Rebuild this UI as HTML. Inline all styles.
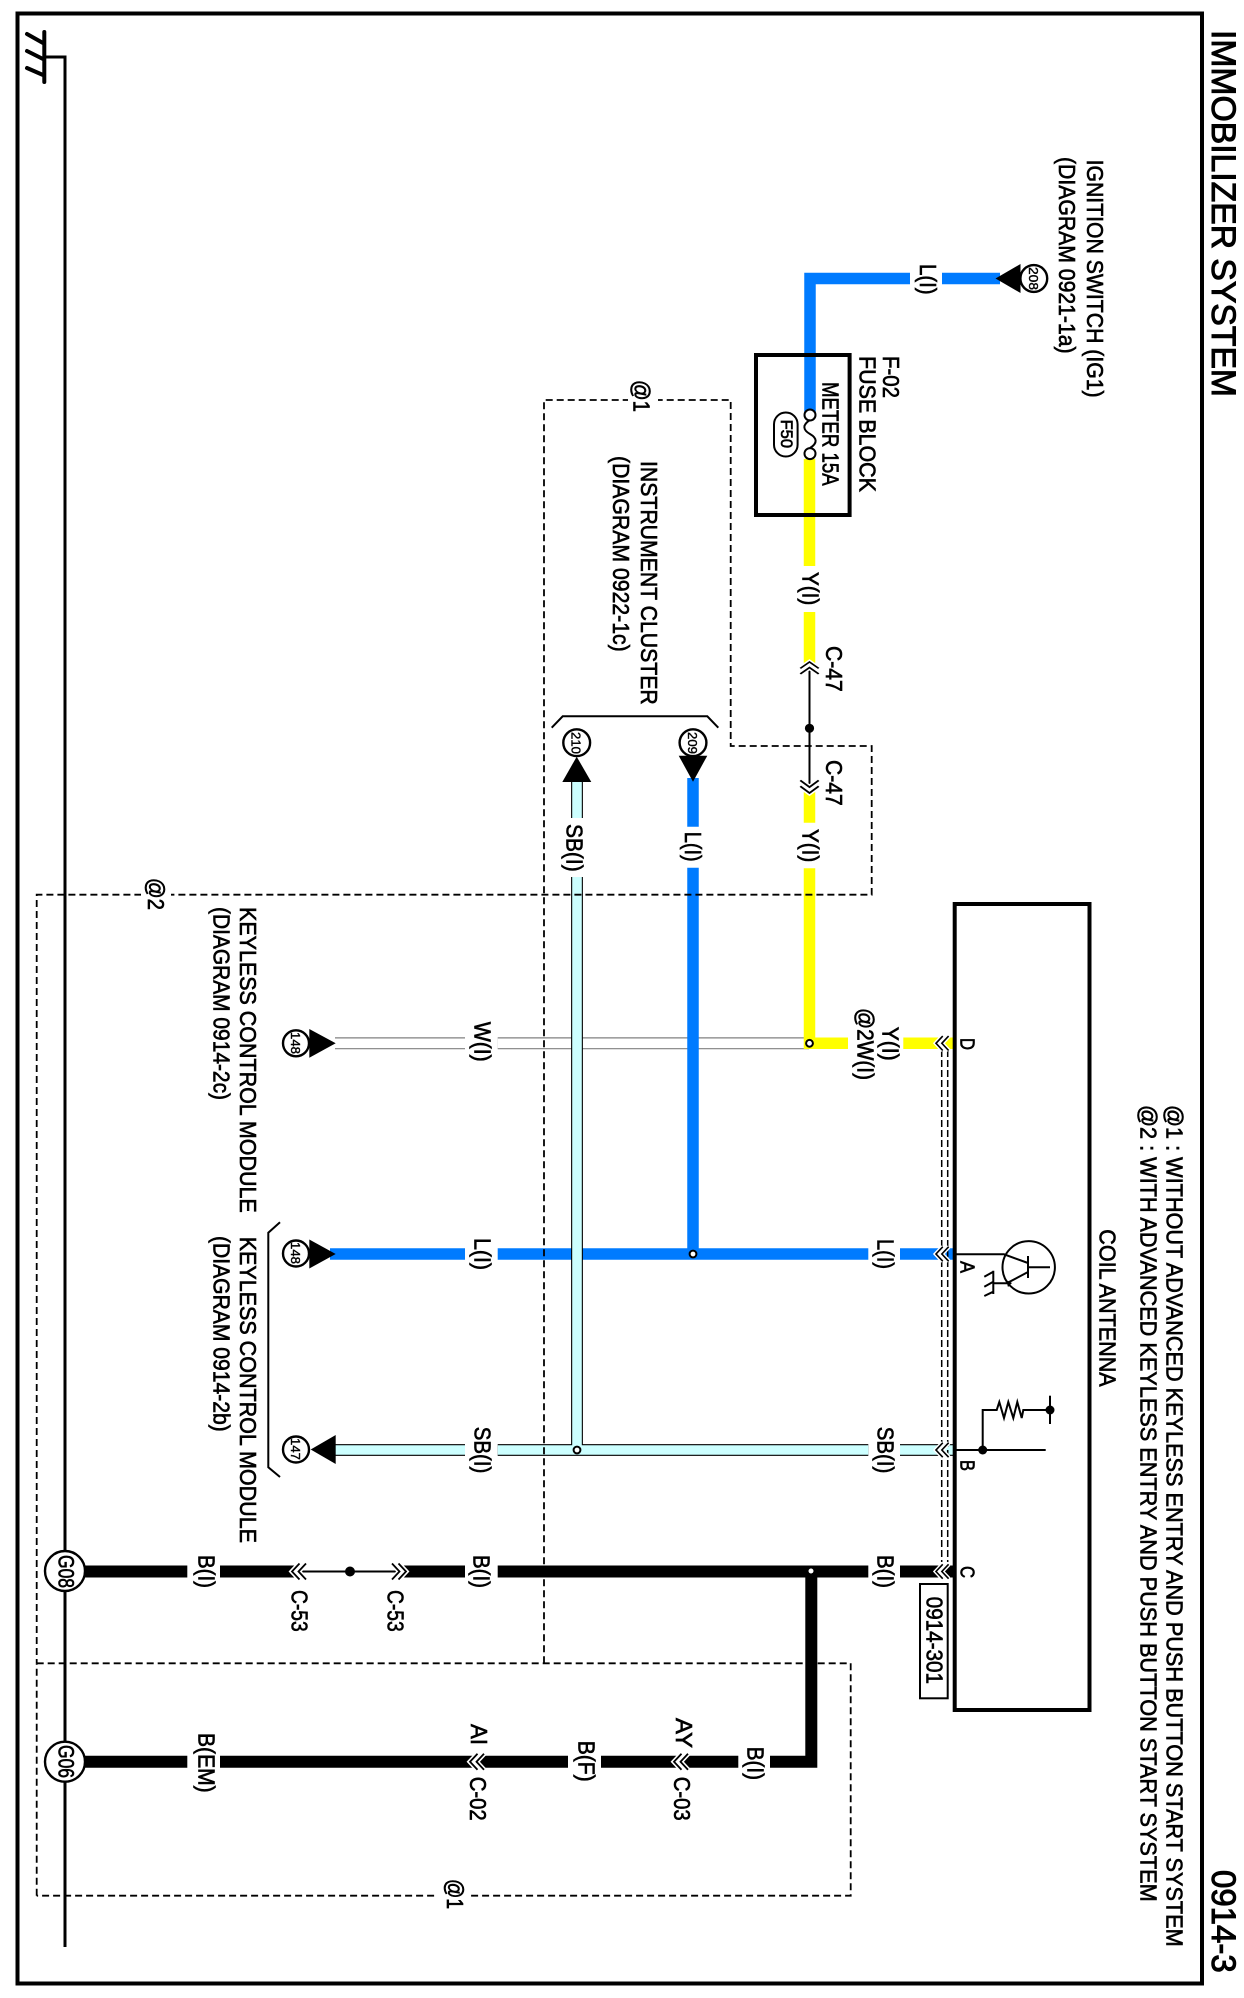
<!DOCTYPE html>
<html>
<head>
<meta charset="utf-8">
<style>
html,body{margin:0;padding:0;background:#fff;width:1244px;height:1998px;overflow:hidden}
svg{display:block}
text{font-family:"Liberation Sans",Arial,sans-serif;font-size:23px;fill:#000;stroke:#000;stroke-width:.65px}
.s{font-size:13px;stroke-width:.4px}
.t{font-size:34px;stroke-width:1px}
</style>
</head>
<body>
<svg width="1244" height="1998" viewBox="0 0 1244 1998" xmlns="http://www.w3.org/2000/svg">
<defs>
<g id="ch" fill="none" stroke-linejoin="miter">
<path d="M7.5,-8 L0,0 L7.5,8 M14,-8 L6.5,0 L14,8" stroke="#fff" stroke-width="5"/>
<path d="M7.5,-8 L0,0 L7.5,8 M14,-8 L6.5,0 L14,8" stroke="#000" stroke-width="1.8"/>
</g>
</defs>
<rect width="1244" height="1998" fill="#fff"/>

<!-- frame -->
<rect x="17.5" y="13.5" width="1184.5" height="1970" fill="none" stroke="#000" stroke-width="4"/>

<!-- ground bus -->
<path d="M44,57 H65 V1947" fill="none" stroke="#000" stroke-width="3"/>
<path d="M44.3,32 V82 M43,43 L27,34 M43,59 L27,51 M43,75 L27,68" fill="none" stroke="#000" stroke-width="4" stroke-linecap="round"/>

<!-- W wire -->
<path d="M335,1043.3 H465 M497.7,1043.3 H809" stroke="#808080" stroke-width="12" fill="none"/>
<path d="M335,1043.3 H465 M497.7,1043.3 H809" stroke="#fff" stroke-width="9.6" fill="none"/>

<!-- yellow -->
<g fill="none" stroke="#ffff00" stroke-width="11.5">
<path d="M809.5,459 V566 M809.5,612 V668 M809.5,788 V822.7 M809.5,868.3 V1043.3 H848 M903.3,1043.3 H954"/>
</g>

<!-- blue -->
<g fill="none" stroke="#007bff" stroke-width="11.5">
<path d="M910,278.5 H810 V412 M942,278.5 H1000"/>
<path d="M693,778 V826.7 M693,867.7 V1254"/>
<path d="M330,1254 H465 M497.7,1254 H868.3 M900,1254 H954"/>
</g>

<!-- sky blue -->
<g fill="none" stroke="#000" stroke-width="11.8">
<path d="M577,780 V818 M577,877 V1450"/>
<path d="M335,1450 H465 M497.7,1450 H868.3 M900,1450 H954"/>
</g>
<g fill="none" stroke="#ccffff" stroke-width="9.6">
<path d="M577,780 V818 M577,877 V1450"/>
<path d="M335,1450 H465 M497.7,1450 H868.3 M900,1450 H954"/>
</g>

<!-- black wires -->
<g fill="none" stroke="#000" stroke-width="12">
<path d="M85,1571.5 H187.3 M220,1571.5 H296 M402,1571.5 H465 M497.7,1571.5 H868.3 M900,1571.5 H954"/>
<path d="M811.3,1571.5 V1761.8 H770 M738.3,1761.8 H601 M568,1761.8 H220 M187.3,1761.8 H85"/>
</g>
<!-- thin connector links -->
<path d="M809.5,670 V786 M296,1571.5 H400" fill="none" stroke="#000" stroke-width="2"/>
<circle cx="809.5" cy="728.3" r="4.6"/>
<circle cx="350" cy="1571.5" r="5"/>

<!-- dashed option boxes -->
<g fill="none" stroke="#000" stroke-width="1.8" stroke-dasharray="7 4">
<path d="M544,1663.3 V400 H730.7 V746 H871.7 V894.7 H36.7 V1663.3"/>
<path d="M36.7,1663.3 H850.7 V1895.7 H36.7"/>
<path d="M36.7,1895.7 V1663.3"/>
</g>
<g fill="none" stroke="#000" stroke-width="1.5" stroke-dasharray="7 3">
<path d="M941.7,1050 V1562 M947.7,1050 V1562"/>
</g>

<!-- white masks for @ labels -->
<rect x="628" y="378" width="30" height="38" fill="#fff"/>
<rect x="141" y="875" width="30" height="38" fill="#fff"/>
<rect x="438" y="1876" width="32" height="38" fill="#fff"/>

<!-- junctions -->
<g fill="#fff" stroke="#000" stroke-width="2">
<circle cx="809.5" cy="1043.3" r="3.4"/>
<circle cx="693" cy="1254" r="3.4"/>
<circle cx="577" cy="1450" r="3.4"/>
</g>
<circle cx="811" cy="1571" r="2.5" fill="#fff"/>

<!-- chevrons at module -->
<use href="#ch" transform="translate(936,1043.3) scale(.9)"/>
<use href="#ch" transform="translate(936,1254) scale(.9)"/>
<use href="#ch" transform="translate(936,1450) scale(.9)"/>
<use href="#ch" transform="translate(936,1571.5) scale(.9)"/>
<!-- C-47 -->
<use href="#ch" transform="translate(809.5,662) rotate(90) scale(.85,1.15)"/>
<use href="#ch" transform="translate(809.5,793) rotate(-90) scale(.9,1.15)"/>
<!-- C-53 -->
<use href="#ch" transform="translate(292,1571.5)"/>
<use href="#ch" transform="translate(406,1571.5) rotate(180)"/>
<!-- C-02 C-03 -->
<use href="#ch" transform="translate(470,1761.8)"/>
<use href="#ch" transform="translate(674,1761.8)"/>

<!-- module box -->
<rect x="954.7" y="904" width="134.8" height="806" fill="none" stroke="#000" stroke-width="4"/>
<rect x="920" y="1584" width="27.7" height="114.3" fill="#fff" stroke="#000" stroke-width="2"/>

<!-- fuse block -->
<rect x="756" y="355" width="93.6" height="160" fill="none" stroke="#000" stroke-width="4"/>
<circle cx="810" cy="415" r="5.5" fill="#fff" stroke="#000" stroke-width="2"/>
<circle cx="810" cy="453.6" r="5.5" fill="#fff" stroke="#000" stroke-width="2"/>
<path d="M810,420 C802,425 803,430 810,434 C817,438 818,443 810,448" fill="none" stroke="#000" stroke-width="2"/>
<rect x="774" y="412.5" width="23.6" height="44" rx="11.8" ry="11.8" fill="#fff" stroke="#000" stroke-width="2"/>

<!-- transistor -->
<g fill="none" stroke="#000" stroke-width="2">
<circle cx="1028.7" cy="1267.3" r="26.2"/>
<path d="M954,1254.3 H1004 L1028,1263"/>
<path d="M1028,1256 V1278 M1028,1267.3 H1050"/>
<path d="M1028,1272 L1006.7,1283.3 H993.3"/>
<path d="M993.3,1270.7 V1294 M993.3,1271.7 L984.3,1276.7 M993.3,1281.7 L984.3,1286.7 M993.3,1291.7 L984.3,1296"/>
</g>
<path d="M1006,1280 L1012,1283 L1008,1287 Z"/>

<!-- resistor -->
<g fill="none" stroke="#000" stroke-width="2">
<path d="M954,1450 H1045.7"/>
<path d="M982.7,1450 V1410 H996.7 L999.3,1402 L1004,1418 L1008.3,1402 L1013.3,1418 L1017.3,1402 L1021.7,1418 L1023.3,1410 H1050"/>
<path d="M1050,1395.7 V1424"/>
</g>
<circle cx="982.7" cy="1450" r="4.5"/>
<circle cx="1050" cy="1410" r="4.5"/>

<!-- brackets -->
<path d="M551.7,727.7 L562.7,716.3 H707.3 L718.3,727.7" fill="none" stroke="#000" stroke-width="2"/>
<path d="M280,1222.3 L268.3,1232.7 V1467.3 L280,1477" fill="none" stroke="#000" stroke-width="2"/>

<!-- arrows -->
<path d="M995.5,278.5 L1020.5,264 V293 Z"/>
<path d="M335.7,1043.3 L309.3,1029 V1057.7 Z"/>
<path d="M335.7,1254 L309.3,1239.5 V1268.5 Z"/>
<path d="M310.7,1449.5 L335.7,1435 V1464 Z"/>

<!-- circles -->
<g fill="#fff" stroke="#000" stroke-width="2.4">
<circle cx="1033.8" cy="278.5" r="13.4"/>
<circle cx="576.7" cy="742.7" r="13.4"/>
<circle cx="693" cy="742.7" r="13.4"/>
<circle cx="296" cy="1043.3" r="13"/>
<circle cx="296" cy="1253.5" r="13"/>
<circle cx="296" cy="1449.5" r="13"/>
<circle cx="65" cy="1571" r="20"/>
<circle cx="65" cy="1761.7" r="20"/>
</g>
<path d="M576.7,756.7 L591.3,782 H562.3 Z"/>
<path d="M693,781.7 L678.7,755.7 H707.3 Z"/>

<!-- small pin labels -->
<text class="s" transform="translate(1028.8,267) rotate(90)" textLength="23" lengthAdjust="spacingAndGlyphs">208</text>
<text class="s" transform="translate(571.7,732) rotate(90)" textLength="22" lengthAdjust="spacingAndGlyphs">210</text>
<text class="s" transform="translate(688,732) rotate(90)" textLength="22" lengthAdjust="spacingAndGlyphs">209</text>
<text class="s" transform="translate(291,1032) rotate(90)" textLength="22" lengthAdjust="spacingAndGlyphs">148</text>
<text class="s" transform="translate(291,1242) rotate(90)" textLength="22" lengthAdjust="spacingAndGlyphs">148</text>
<text class="s" transform="translate(291,1438) rotate(90)" textLength="22" lengthAdjust="spacingAndGlyphs">147</text>
<text style="font-size:22px" transform="translate(58.3,1555) rotate(90)" textLength="33" lengthAdjust="spacingAndGlyphs">G08</text>
<text style="font-size:22px" transform="translate(58.3,1745) rotate(90)" textLength="33" lengthAdjust="spacingAndGlyphs">G06</text>
<text style="font-size:17px" transform="translate(780.8,419.6) rotate(90)" textLength="28.4" lengthAdjust="spacingAndGlyphs">F50</text>

<!-- titles -->
<text class="t" transform="translate(1212,30) rotate(90)" textLength="367" lengthAdjust="spacingAndGlyphs">IMMOBILIZER SYSTEM</text>
<text class="t" transform="translate(1212,1870) rotate(90)" textLength="102.7" lengthAdjust="spacingAndGlyphs">0914-3</text>

<!-- notes -->
<text transform="translate(1166.7,1105) rotate(90)" textLength="841.7" lengthAdjust="spacingAndGlyphs">@1 : WITHOUT ADVANCED KEYLESS ENTRY AND PUSH BUTTON START SYSTEM</text>
<text transform="translate(1140.7,1105) rotate(90)" textLength="796.7" lengthAdjust="spacingAndGlyphs">@2 : WITH ADVANCED KEYLESS ENTRY AND PUSH BUTTON START SYSTEM</text>
<text transform="translate(1099.3,1229.3) rotate(90)" textLength="157.4" lengthAdjust="spacingAndGlyphs">COIL ANTENNA</text>

<text transform="translate(1086.8,159.6) rotate(90)" textLength="238" lengthAdjust="spacingAndGlyphs">IGNITION SWITCH (IG1)</text>
<text transform="translate(1059,157) rotate(90)" textLength="196.6" lengthAdjust="spacingAndGlyphs">(DIAGRAM 0921-1a)</text>
<text transform="translate(883,356) rotate(90)" textLength="42" lengthAdjust="spacingAndGlyphs">F-02</text>
<text transform="translate(859.6,356) rotate(90)" textLength="136" lengthAdjust="spacingAndGlyphs">FUSE BLOCK</text>
<text transform="translate(822.6,382) rotate(90)" textLength="103.7" lengthAdjust="spacingAndGlyphs">METER 15A</text>

<text transform="translate(641,461) rotate(90)" textLength="243.7" lengthAdjust="spacingAndGlyphs">INSTRUMENT CLUSTER</text>
<text transform="translate(613,456) rotate(90)" textLength="195.7" lengthAdjust="spacingAndGlyphs">(DIAGRAM 0922-1c)</text>

<text transform="translate(240,907) rotate(90)" textLength="305.7" lengthAdjust="spacingAndGlyphs">KEYLESS CONTROL MODULE</text>
<text transform="translate(213.3,907) rotate(90)" textLength="193" lengthAdjust="spacingAndGlyphs">(DIAGRAM 0914-2c)</text>
<text transform="translate(240,1236.7) rotate(90)" textLength="306.3" lengthAdjust="spacingAndGlyphs">KEYLESS CONTROL MODULE</text>
<text transform="translate(213.3,1236) rotate(90)" textLength="195.7" lengthAdjust="spacingAndGlyphs">(DIAGRAM 0914-2b)</text>

<!-- @ markers -->
<text transform="translate(633.5,380) rotate(90)" textLength="32" lengthAdjust="spacingAndGlyphs">@1</text>
<text transform="translate(148,878) rotate(90)" textLength="32" lengthAdjust="spacingAndGlyphs">@2</text>
<text transform="translate(447,1879) rotate(90)" textLength="30" lengthAdjust="spacingAndGlyphs">@1</text>

<!-- wire labels -->
<text transform="translate(920,264) rotate(90)" textLength="30.6" lengthAdjust="spacingAndGlyphs">L(I)</text>
<text transform="translate(802.7,572) rotate(90)" textLength="33.3" lengthAdjust="spacingAndGlyphs">Y(I)</text>
<text transform="translate(826,646) rotate(90)" textLength="45.7" lengthAdjust="spacingAndGlyphs">C-47</text>
<text transform="translate(826,760) rotate(90)" textLength="45.7" lengthAdjust="spacingAndGlyphs">C-47</text>
<text transform="translate(802.7,829) rotate(90)" textLength="33.3" lengthAdjust="spacingAndGlyphs">Y(I)</text>
<text transform="translate(685,831.7) rotate(90)" textLength="30" lengthAdjust="spacingAndGlyphs">L(I)</text>
<text transform="translate(566.7,824) rotate(90)" textLength="47.7" lengthAdjust="spacingAndGlyphs">SB(I)</text>
<text transform="translate(882.7,1026.7) rotate(90)" textLength="34" lengthAdjust="spacingAndGlyphs">Y(I)</text>
<text transform="translate(857.5,1008) rotate(90)" textLength="72" lengthAdjust="spacingAndGlyphs">@2W(I)</text>
<text transform="translate(877.7,1239) rotate(90)" textLength="30" lengthAdjust="spacingAndGlyphs">L(I)</text>
<text transform="translate(877.7,1426.7) rotate(90)" textLength="46.6" lengthAdjust="spacingAndGlyphs">SB(I)</text>
<text transform="translate(877.3,1555) rotate(90)" textLength="33" lengthAdjust="spacingAndGlyphs">B(I)</text>
<text transform="translate(474.3,1021.7) rotate(90)" textLength="40" lengthAdjust="spacingAndGlyphs">W(I)</text>
<text transform="translate(474.3,1238) rotate(90)" textLength="32" lengthAdjust="spacingAndGlyphs">L(I)</text>
<text transform="translate(474.3,1426.7) rotate(90)" textLength="46.6" lengthAdjust="spacingAndGlyphs">SB(I)</text>
<text transform="translate(198.3,1555) rotate(90)" textLength="33" lengthAdjust="spacingAndGlyphs">B(I)</text>
<text transform="translate(473.3,1555) rotate(90)" textLength="33" lengthAdjust="spacingAndGlyphs">B(I)</text>
<text transform="translate(291.7,1590) rotate(90)" textLength="41.7" lengthAdjust="spacingAndGlyphs">C-53</text>
<text transform="translate(387.3,1590) rotate(90)" textLength="41.7" lengthAdjust="spacingAndGlyphs">C-53</text>
<text transform="translate(198.3,1733) rotate(90)" textLength="59.7" lengthAdjust="spacingAndGlyphs">B(EM)</text>
<text transform="translate(471,1724) rotate(90)" textLength="21" lengthAdjust="spacingAndGlyphs">AI</text>
<text transform="translate(470,1776.7) rotate(90)" textLength="44" lengthAdjust="spacingAndGlyphs">C-02</text>
<text transform="translate(578.3,1740.7) rotate(90)" textLength="41" lengthAdjust="spacingAndGlyphs">B(F)</text>
<text transform="translate(676,1718) rotate(90)" textLength="30" lengthAdjust="spacingAndGlyphs">AY</text>
<text transform="translate(674,1776.7) rotate(90)" textLength="44" lengthAdjust="spacingAndGlyphs">C-03</text>
<text transform="translate(747.3,1746.7) rotate(90)" textLength="33.3" lengthAdjust="spacingAndGlyphs">B(I)</text>
<text transform="translate(926.7,1596.7) rotate(90)" textLength="87.3" lengthAdjust="spacingAndGlyphs">0914-301</text>

<!-- pin letters -->
<text style="font-size:20px" transform="translate(960.7,1038) rotate(90)" textLength="12" lengthAdjust="spacingAndGlyphs">D</text>
<text style="font-size:20px" transform="translate(960.7,1261) rotate(90)" textLength="12" lengthAdjust="spacingAndGlyphs">A</text>
<text style="font-size:20px" transform="translate(960.7,1460) rotate(90)" textLength="11" lengthAdjust="spacingAndGlyphs">B</text>
<text style="font-size:20px" transform="translate(960.7,1566) rotate(90)" textLength="12" lengthAdjust="spacingAndGlyphs">C</text>
</svg>
</body>
</html>
